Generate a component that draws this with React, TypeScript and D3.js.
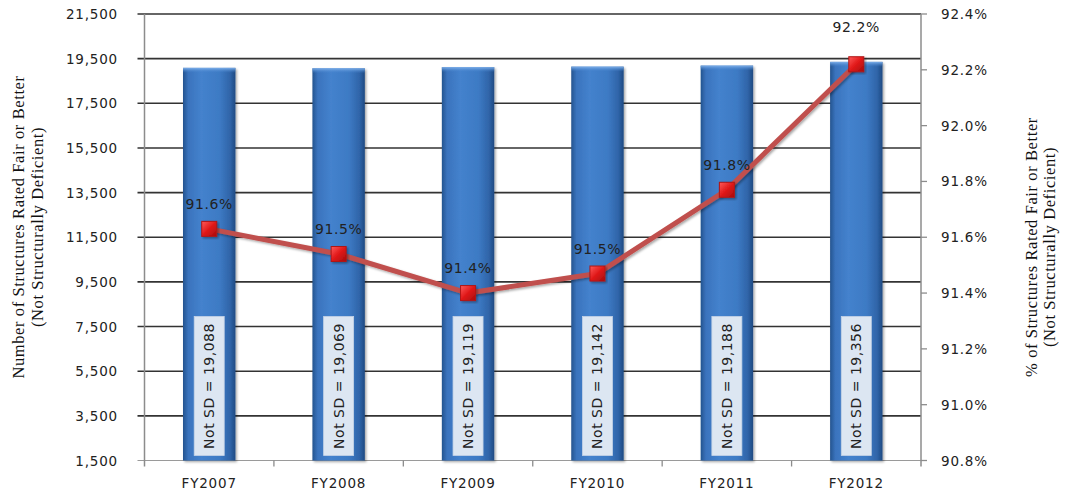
import React from "react";
import * as d3 from "d3";

const categories = ["FY2007", "FY2008", "FY2009", "FY2010", "FY2011", "FY2012"];
const notSD = [19088, 19069, 19119, 19142, 19188, 19356];
const pctValues = [91.63, 91.54, 91.4, 91.47, 91.77, 92.22];
const pctLabels = ["91.6%", "91.5%", "91.4%", "91.5%", "91.8%", "92.2%"];
const leftTicks = [1500, 3500, 5500, 7500, 9500, 11500, 13500, 15500, 17500, 19500, 21500];
const rightTicks = [90.8, 91.0, 91.2, 91.4, 91.6, 91.8, 92.0, 92.2, 92.4];

const W = 1070;
const H = 496;
const M = { left: 144.5, right: 921, top: 14, bottom: 460.5 };

export default function App() {
  const x = d3.scaleBand<string>().domain(categories).range([M.left, M.right]).paddingInner(0).paddingOuter(0);
  const yL = d3.scaleLinear().domain([1500, 21500]).range([M.bottom, M.top]);
  const yR = d3.scaleLinear().domain([90.8, 92.4]).range([M.bottom, M.top]);
  const bw = x.bandwidth() * 0.405;
  const fmt = d3.format(",");
  const line = d3
    .line<number>()
    .x((_, i) => (x(categories[i]) as number) + x.bandwidth() / 2)
    .y((d) => yR(d));

  const tickFont = { fontFamily: "'DejaVu Sans', Verdana, sans-serif", fontSize: 13.5, letterSpacing: 0.8, fill: "#222" };
  const titleFont = { fontFamily: "'Liberation Serif', 'Times New Roman', serif", fontSize: 16.5, letterSpacing: 0.6, fill: "#111" };

  return (
    <svg width={W} height={H} style={{ position: "absolute", left: 0, top: 0, background: "#fff" }}>
      <defs>
        <linearGradient id="barG" x1="0" x2="1" y1="0" y2="0">
          <stop offset="0" stopColor="#24548f" />
          <stop offset="0.1" stopColor="#3a73bd" />
          <stop offset="0.35" stopColor="#4482cd" />
          <stop offset="0.7" stopColor="#3d7ac4" />
          <stop offset="0.9" stopColor="#2f64a8" />
          <stop offset="1" stopColor="#1f4a82" />
        </linearGradient>
        <linearGradient id="barTop" x1="0" x2="0" y1="0" y2="1">
          <stop offset="0" stopColor="#7fb0ea" />
          <stop offset="1" stopColor="#4482cd" stopOpacity="0" />
        </linearGradient>
        <linearGradient id="mk" x1="0" x2="1" y1="0" y2="1">
          <stop offset="0" stopColor="#ff5a5a" />
          <stop offset="0.5" stopColor="#e01818" />
          <stop offset="1" stopColor="#a50c0c" />
        </linearGradient>
        <filter id="sh" x="-20%" y="-20%" width="140%" height="140%">
          <feDropShadow dx="1.5" dy="1.5" stdDeviation="1.2" floodColor="#000" floodOpacity="0.35" />
        </filter>
      </defs>

      {/* gridlines */}
      {leftTicks.map((t) => (
        <line key={"g" + t} x1={M.left - 7} x2={M.right} y1={yL(t)} y2={yL(t)}
          stroke={t === 1500 ? "#9a9a9a" : "#333"} strokeWidth={t === 1500 ? 1.2 : 1.6} />
      ))}
      {/* axes */}
      <line x1={M.left} x2={M.left} y1={M.top} y2={M.bottom + 6} stroke="#8c8c8c" strokeWidth={1.5} />
      <line x1={M.right} x2={M.right} y1={M.top} y2={M.bottom + 6} stroke="#8c8c8c" strokeWidth={1.5} />
      {rightTicks.map((t) => (
        <line key={"rt" + t} x1={M.right} x2={M.right + 6} y1={yR(t)} y2={yR(t)} stroke="#8c8c8c" strokeWidth={1.3} />
      ))}
      {categories.map((c, i) =>
        i > 0 ? (
          <line key={"xt" + c} x1={x(c) as number} x2={x(c) as number} y1={M.bottom} y2={M.bottom + 6} stroke="#8c8c8c" strokeWidth={1.3} />
        ) : null
      )}

      {/* bars */}
      {categories.map((c, i) => {
        const cx = (x(c) as number) + x.bandwidth() / 2;
        const y0 = yL(notSD[i]);
        return (
          <g key={"b" + c}>
            <rect x={cx - bw / 2} y={y0} width={bw} height={M.bottom - y0} fill="url(#barG)" filter="url(#sh)" />
            <rect x={cx - bw / 2} y={y0} width={bw} height={5} fill="url(#barTop)" />
            <rect x={cx - 15} y={M.bottom - 144} width={30} height={139} fill="#dce6f2" stroke="#c5d3e6" strokeWidth={0.8} />
            <text
              transform={`translate(${cx + 5},${M.bottom - 74.5}) rotate(-90)`}
              textAnchor="middle"
              style={{ ...tickFont, fontSize: 14, letterSpacing: 0.5 }}
              fill="#111"
            >
              {`Not SD = ${fmt(notSD[i])}`}
            </text>
          </g>
        );
      })}

      {/* line */}
      <path d={line(pctValues) as string} fill="none" stroke="#c0504d" strokeWidth={5} strokeLinejoin="round" filter="url(#sh)" />
      {pctValues.map((v, i) => {
        const cx = (x(categories[i]) as number) + x.bandwidth() / 2;
        const cy = yR(v);
        const base = cy - 20;
        const ly = base < yL(19500) ? base - 12 : base;
        return (
          <g key={"m" + i}>
            <rect x={cx - 7.5} y={cy - 7.5} width={15} height={15} fill="url(#mk)" stroke="#b01515" strokeWidth={1} filter="url(#sh)" />
            <text x={cx} y={ly} textAnchor="middle" style={{ ...tickFont, fontSize: 14, letterSpacing: 0.6 }} fill="#111">
              {pctLabels[i]}
            </text>
          </g>
        );
      })}

      {/* left tick labels */}
      {leftTicks.map((t) => (
        <text key={"lt" + t} x={118} y={yL(t) + 5} textAnchor="end" style={tickFont}>
          {fmt(t)}
        </text>
      ))}
      {/* right tick labels */}
      {rightTicks.map((t) => (
        <text key={"rl" + t} x={941} y={yR(t) + 5} textAnchor="start" style={tickFont}>
          {t.toFixed(1) + "%"}
        </text>
      ))}
      {/* x labels */}
      {categories.map((c) => (
        <text key={"xl" + c} x={(x(c) as number) + x.bandwidth() / 2} y={488} textAnchor="middle" style={tickFont}>
          {c}
        </text>
      ))}

      {/* axis titles */}
      <text transform={`translate(24,227) rotate(-90)`} textAnchor="middle" style={titleFont}>
        Number of Structures Rated Fair or Better
      </text>
      <text transform={`translate(43,227) rotate(-90)`} textAnchor="middle" style={titleFont}>
        (Not Structurally Deficient)
      </text>
      <text transform={`translate(1037,247) rotate(-90)`} textAnchor="middle" style={titleFont}>
        % of Structures Rated Fair or Better
      </text>
      <text transform={`translate(1055,247) rotate(-90)`} textAnchor="middle" style={titleFont}>
        (Not Structurally Deficient)
      </text>
    </svg>
  );
}
